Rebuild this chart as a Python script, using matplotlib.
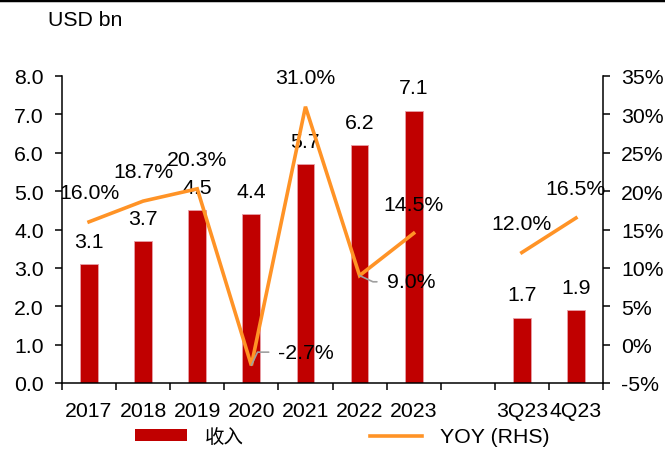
import numpy as np
import matplotlib
matplotlib.use("Agg")
import matplotlib.pyplot as plt
from matplotlib.patches import Patch
from matplotlib.lines import Line2D

plt.rcParams['font.family'] = ['Liberation Sans', 'Noto Sans CJK SC', 'DejaVu Sans']

categories = ['2017', '2018', '2019', '2020', '2021', '2022', '2023', '', '3Q23', '4Q23']
revenue = [3.1, 3.7, 4.5, 4.4, 5.7, 6.2, 7.1, np.nan, 1.7, 1.9]
yoy = [16.0, 18.7, 20.3, -2.7, 31.0, 9.0, 14.5, np.nan, 12.0, 16.5]
left_ticks = [0, 1, 2, 3, 4, 5, 6, 7, 8]
right_ticks = [-5, 0, 5, 10, 15, 20, 25, 30, 35]

BAR = '#C00000'
LINE = '#FF9326'
FS = 15.3

fig = plt.figure(figsize=(6.65, 4.52), dpi=100)
ax = fig.add_axes([62/665, 1-384/452, (603-62)/665, (384-77)/452])
ax2 = ax.twinx()

x = np.arange(len(categories))
ax.bar(x, revenue, width=0.33, color=BAR, edgecolor='#E8A0A8', linewidth=0.6, zorder=2)
ax.set_ylim(0, 8)
ax.set_xlim(-0.5, len(categories)-0.5)
ax.set_yticks(left_ticks)
ax.set_yticklabels([f'{v:.1f}' for v in left_ticks])

ax2.plot(x, yoy, color=LINE, linewidth=2.6, solid_joinstyle='miter', zorder=3)
ax2.set_ylim(-5, 35)
ax2.set_yticks(right_ticks)
ax2.set_yticklabels([f'{v}%' for v in right_ticks])

# x ticks: major between categories, labels at centers (minor)
ax.set_xticks(np.arange(len(categories)+1) - 0.5)
ax.set_xticklabels([])
ax.set_xticks(x, minor=True)
ax.set_xticklabels(categories, minor=True)
ax.tick_params(axis='x', which='major', direction='out', length=5, width=1.1, color='black')
ax.tick_params(axis='x', which='minor', length=0, pad=13, labelsize=FS)
ax.tick_params(axis='y', direction='out', length=5, width=1.1, pad=8, labelsize=FS)
ax2.tick_params(axis='y', direction='out', length=5, width=1.1, pad=8, labelsize=FS)

for a in (ax, ax2):
    a.spines['top'].set_visible(False)
    for s in ('left', 'right', 'bottom'):
        a.spines[s].set_linewidth(1.1)
ax.spines['right'].set_visible(False)
ax2.spines['left'].set_visible(False)
ax2.spines['bottom'].set_visible(False)

# bar labels
for xi, v in zip(x, revenue):
    if np.isnan(v):
        continue
    ax.annotate(f'{v:.1f}', (xi, v), xytext=(0, 16.5), textcoords='offset points',
                ha='center', va='center', fontsize=FS, zorder=4)

# line labels
for xi, v in zip(x, yoy):
    if np.isnan(v):
        continue
    if v in (-2.7, 9.0):
        dy = 9.5 if v < 0 else -4.5
        angB = 65 if v < 0 else -25
        ax2.annotate(f'{v:.1f}%', (xi, v), xytext=(19.5, dy), textcoords='offset points',
                     ha='left', va='center', fontsize=FS, zorder=5,
                     arrowprops=dict(arrowstyle='-', color='#A0A0A0', lw=1.2,
                                     shrinkA=5, shrinkB=0, relpos=(0, 0.5),
                                     connectionstyle=f'angle,angleA=0,angleB={angB},rad=0'))
    else:
        ax2.annotate(f'{v:.1f}%', (xi, v), xytext=(0, 21), textcoords='offset points',
                     ha='center', va='center', fontsize=FS, zorder=5)

fig.text(48/665, 1-20/452, 'USD bn', ha='left', va='center', fontsize=FS)

# top border line
fig.add_artist(Line2D([0, 1], [1-1/452, 1-1/452], color='black', linewidth=2.5,
                      transform=fig.transFigure))

handles = [Patch(facecolor=BAR, edgecolor='none'),
           Line2D([0], [0], color=LINE, linewidth=2.6)]
leg = fig.legend(handles, ['收入', 'YOY (RHS)'], ncol=2, frameon=False,
                 loc='center left', bbox_to_anchor=(135/665, 1-438/452),
                 fontsize=FS, handlelength=2.45, handleheight=0.5,
                 handletextpad=0.85, columnspacing=5.9, borderaxespad=0, borderpad=0)
leg.get_texts()[0].set_fontsize(14)

fig.savefig('out.png', dpi=100)
